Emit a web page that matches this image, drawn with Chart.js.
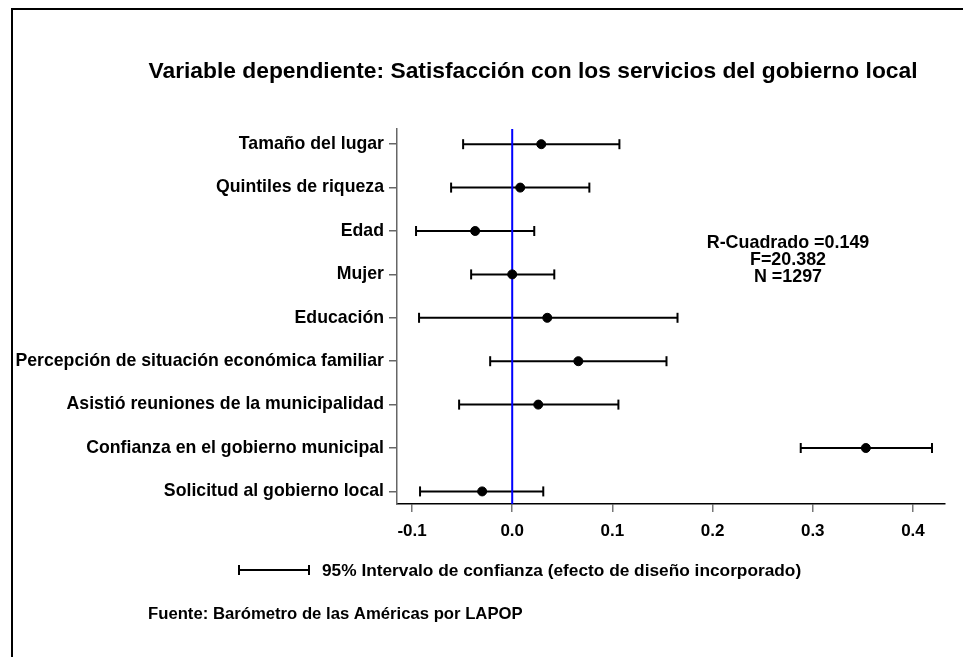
<!DOCTYPE html>
<html>
<head>
<meta charset="utf-8">
<script src="https://cdn.jsdelivr.net/npm/chart.js@4/dist/chart.umd.min.js"></script>
<style>
  body { margin: 0; background: #fff; }
  #wrap { width: 963px; height: 657px; position: relative; }
</style>
</head>
<body>
<div id="wrap"><canvas id="myChart"></canvas></div>
<script>
// variables (top to bottom)
let labels = [
  'Tamaño del lugar',
  'Quintiles de riqueza',
  'Edad',
  'Mujer',
  'Educación',
  'Percepción de situación económica familiar',
  'Asistió reuniones de la municipalidad',
  'Confianza en el gobierno municipal',
  'Solicitud al gobierno local'
]
let coefs = [0.029, 0.008, -0.037, 0.000, 0.035, 0.066, 0.026, 0.353, -0.030]
let lows  = [-0.049, -0.061, -0.096, -0.041, -0.093, -0.022, -0.053, 0.288, -0.092]
let highs = [0.107, 0.077, 0.022, 0.042, 0.165, 0.154, 0.106, 0.419, 0.031]
let xTicks = [-0.1, 0.0, 0.1, 0.2, 0.3, 0.4]
let stats = ['R-Cuadrado =0.149', 'F=20.382', 'N =1297']
let titleText = 'Variable dependiente: Satisfacción con los servicios del gobierno local'
let legendText = '95% Intervalo de confianza (efecto de diseño incorporado)'
let sourceText = 'Fuente: Barómetro de las Américas por LAPOP'

let yMin = 0.65, yMax = 9.29
let FONT = '"Liberation Sans", Arial, sans-serif'

// error bars, one line dataset per variable, caps as rotated 'line' points
let barSets = labels.map((lab, i) => ({
  type: 'line',
  label: lab,
  data: [{x: lows[i], y: i + 1}, {x: highs[i], y: i + 1}],
  borderColor: '#000',
  borderWidth: 2,
  pointStyle: 'line',
  rotation: 90,
  pointRadius: 5,
  pointBorderWidth: 2,
  pointBorderColor: '#000',
  order: 3
}))

let zeroLine = {
  type: 'line',
  label: 'cero',
  data: [{x: 0, y: yMin}, {x: 0, y: yMax}],
  borderColor: '#0000ff',
  borderWidth: 2,
  pointRadius: 0,
  order: 2
}

let pointSet = {
  type: 'scatter',
  label: 'coef',
  data: coefs.map((c, i) => ({x: c, y: i + 1})),
  backgroundColor: '#000',
  borderColor: '#000',
  pointRadius: 4.5,
  order: 1
}

let extras = {
  id: 'extras',
  beforeDraw(chart) {
    let ctx = chart.ctx
    ctx.save()
    ctx.fillStyle = '#fff'
    ctx.fillRect(0, 0, chart.width, chart.height)
    ctx.fillStyle = '#000'
    ctx.fillRect(11, 8, chart.width - 11, 2)
    ctx.fillRect(11, 8, 2, chart.height - 8)
    ctx.restore()
  },
  afterDraw(chart) {
    let ctx = chart.ctx
    ctx.save()
    ctx.fillStyle = '#000'
    ctx.textBaseline = 'middle'
    // title
    ctx.font = 'bold 22.8px ' + FONT
    ctx.textAlign = 'center'
    ctx.fillText(titleText, 533, 72)
    // stats
    ctx.font = 'bold 17.9px ' + FONT
    stats.forEach((s, i) => ctx.fillText(s, 788, 243 + i * 17))
    // legend sample
    ctx.strokeStyle = '#000'
    ctx.lineWidth = 2
    ctx.beginPath()
    ctx.moveTo(238, 570); ctx.lineTo(310, 570)
    ctx.moveTo(239, 565); ctx.lineTo(239, 575)
    ctx.moveTo(309, 565); ctx.lineTo(309, 575)
    ctx.stroke()
    ctx.textAlign = 'left'
    ctx.font = 'bold 17.3px ' + FONT
    ctx.fillText(legendText, 322, 571)
    ctx.font = 'bold 16.7px ' + FONT
    ctx.fillText(sourceText, 148, 614)
    ctx.restore()
  }
}

let config = {
  data: { datasets: [pointSet, zeroLine, ...barSets] },
  options: {
    responsive: true,
    maintainAspectRatio: false,
    animation: false,
    layout: { padding: { left: 0, top: 129, right: 18, bottom: 0 } },
    plugins: { legend: { display: false }, tooltip: { enabled: false } },
    scales: {
      x: {
        type: 'linear',
        min: -0.115,
        max: 0.432,
        afterBuildTicks: s => { s.ticks = xTicks.map(v => ({value: v})) },
        afterFit: s => { s.height = 153 },
        border: { display: true, color: '#000', width: 1.5 },
        grid: { drawOnChartArea: false, drawTicks: true, tickLength: 8, color: '#777', lineWidth: 1.5 },
        ticks: {
          color: '#000',
          padding: 9,
          font: { family: FONT, size: 17, weight: 'bold' },
          callback: v => v.toFixed(1)
        }
      },
      y: {
        type: 'linear',
        reverse: true,
        min: yMin,
        max: yMax,
        afterBuildTicks: s => { s.ticks = labels.map((l, i) => ({value: i + 1})) },
        afterFit: s => { s.width = 397 },
        border: { display: true, color: '#666', width: 1.5 },
        grid: { drawOnChartArea: false, drawTicks: true, tickLength: 8, color: '#666', lineWidth: 1.5 },
        ticks: {
          color: '#000',
          padding: 5,
          autoSkip: false,
          font: { family: FONT, size: 17.7, weight: 'bold' },
          callback: v => labels[v - 1]
        }
      }
    }
  },
  plugins: [extras]
}

let myChart = new Chart(document.getElementById('myChart'), config)
</script>
</body>
</html>
